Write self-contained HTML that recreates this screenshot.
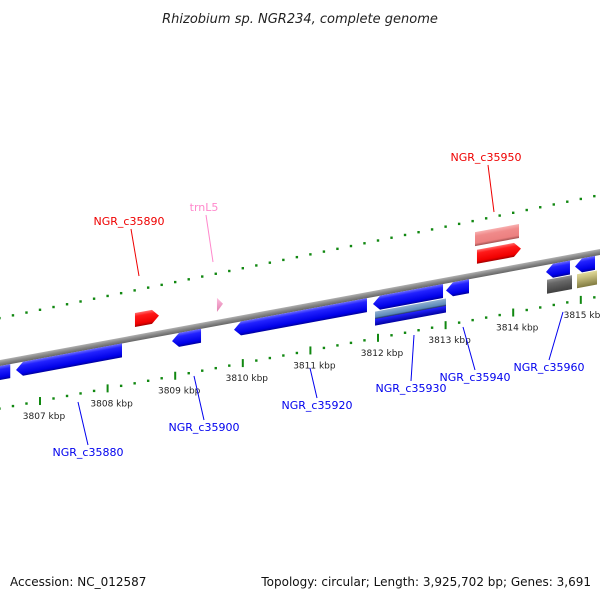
<!DOCTYPE html>
<html><head><meta charset="utf-8"><style>
body{margin:0;background:#fff;}
svg{display:block;font-family:"DejaVu Sans","Liberation Sans",sans-serif;}
</style></head><body>
<svg width="600" height="600" viewBox="0 0 600 600">
<defs>
<linearGradient id="gBlue" x1="0" y1="0" x2="0" y2="1"><stop offset="0" stop-color="#6a6aff"/><stop offset="0.25" stop-color="#2222ff"/><stop offset="0.8" stop-color="#0000e8"/><stop offset="1" stop-color="#00009a"/></linearGradient>
<linearGradient id="gRed" x1="0" y1="0" x2="0" y2="1"><stop offset="0" stop-color="#ff6a6a"/><stop offset="0.25" stop-color="#ff1a1a"/><stop offset="0.8" stop-color="#f00000"/><stop offset="1" stop-color="#a00000"/></linearGradient>
<linearGradient id="gPink" x1="0" y1="0" x2="0" y2="1"><stop offset="0" stop-color="#f8b0b0"/><stop offset="0.3" stop-color="#f08a8a"/><stop offset="0.8" stop-color="#ec8080"/><stop offset="1" stop-color="#a05050"/></linearGradient>
<linearGradient id="gSteel" x1="0" y1="0" x2="0" y2="1"><stop offset="0" stop-color="#90b0d0"/><stop offset="0.4" stop-color="#5a88b8"/><stop offset="0.5" stop-color="#2a3a6a"/><stop offset="0.55" stop-color="#2222ff"/><stop offset="1" stop-color="#0000a0"/></linearGradient>
<linearGradient id="gGray" x1="0" y1="0" x2="0" y2="1"><stop offset="0" stop-color="#909090"/><stop offset="0.3" stop-color="#686868"/><stop offset="1" stop-color="#404040"/></linearGradient>
<linearGradient id="gKhaki" x1="0" y1="0" x2="0" y2="1"><stop offset="0" stop-color="#e0da9a"/><stop offset="0.3" stop-color="#c8c080"/><stop offset="1" stop-color="#807a40"/></linearGradient>
<linearGradient id="gTrna" x1="0" y1="0" x2="0" y2="1"><stop offset="0" stop-color="#ffc0e0"/><stop offset="1" stop-color="#e080b0"/></linearGradient>
<linearGradient id="gBack" x1="0" y1="0" x2="0" y2="1"><stop offset="0" stop-color="#b0b0b0"/><stop offset="0.5" stop-color="#888"/><stop offset="1" stop-color="#666"/></linearGradient>
</defs>
<text x="300" y="23" text-anchor="middle" font-size="13" font-style="italic" fill="#222">Rhizobium sp. NGR234, complete genome</text>
<g id="tracks"></g>
<g id="skew" transform="matrix(1,-0.185,0,1,0,0)">
<rect x="-20" y="360" width="660" height="6" fill="url(#gBack)"/>
</g>
<g id="labels"></g>
<text x="10" y="586" font-size="12" fill="#111">Accession: NC_012587</text>
<text x="591" y="586" text-anchor="end" font-size="12" fill="#111">Topology: circular; Length: 3,925,702 bp; Genes: 3,691</text>
</svg>
<script>
const majorTicksBottom=[3807,3808,3809,3810,3811,3812,3813,3814,3815];
const majorTicksTop=[3806.7,3807.7,3808.7,3809.7,3810.7,3811.7,3812.7,3813.7,3814.7];
const geneNames=["c35870","NGR_c35880","NGR_c35890","trnL5","NGR_c35900","NGR_c35920","NGR_c35930","c35930b","NGR_c35940","c35950p","NGR_c35950","c35960a","NGR_c35960","c35960g","c35960k"];
const geneStart=[3806.26,3806.645,3808.405,3809.618,3808.953,3809.870,3811.926,3811.956,3813.006,3813.435,3813.464,3814.485,3814.914,3814.500,3814.944];
const geneEnd=[3806.56,3808.213,3808.760,3809.707,3809.382,3811.837,3812.962,3813.006,3813.346,3814.086,3814.115,3814.840,3815.210,3814.870,3815.240];
const geneRow=["R1","R1","F1","F1","R1","R1","R1","R2","R1","F2","F1","R1","R1","R2","R2"];
const geneDir=[-1,-1,1,1,-1,-1,-1,0,-1,0,1,-1,-1,0,0];
const geneFill=["gBlue","gBlue","gRed","gTrna","gBlue","gBlue","gBlue","gSteel","gBlue","gPink","gRed","gBlue","gBlue","gGray","gKhaki"];
const labelText=["NGR_c35880","NGR_c35890","trnL5","NGR_c35900","NGR_c35920","NGR_c35930","NGR_c35940","NGR_c35950","NGR_c35960"];
const labelColor=["#0000ee","#ee0000","#ff88cc","#0000ee","#0000ee","#0000ee","#0000ee","#ee0000","#0000ee"];
const labelPos=[[88,456],[129,225],[204,211],[204,431],[317,409],[411,392],[475,381],[486,161],[549,371]];
const leaderEnd=[[78,402],[139,276],[213,262],[194,376],[310,368],[414,335],[463,327],[494,212],[563,312]];
const NS="http://www.w3.org/2000/svg";
function xs(k){return 40+(k-3807)*67.6;}
function topY(x){return 318-0.205*x;}
function botY(x){return 408.5-0.187*x;}
const rowY={F2:[320,334],F1:[338,352],R1:[366,380],R2:[381,395]};
const tracks=document.getElementById('tracks');
function mk(tag,attrs,parent){const e=document.createElementNS(NS,tag);for(const k in attrs)e.setAttribute(k,attrs[k]);parent.appendChild(e);return e;}
// tracks
[[majorTicksTop,topY,'top'],[majorTicksBottom,botY,'bottom']].forEach(([maj,fy,nm])=>{
  for(let k=3806;k<=3815.5;k+=0.2){
    const kk=Math.round(k*10)/10;
    const isMaj=maj.some(m=>Math.abs(m-kk)<0.01)||maj.some(m=>Math.abs(((kk-m)%1+1)%1)<0.01);
    const kr=nm==='top'?Math.round((kk-0.7)*10)/10+0.7:kk;
    const x=xs(nm==='top'?kk+0.0:kk);
    if(x<-5||x>605)continue;
    const y=fy(x);
    const majT=maj.some(m=>Math.abs(m-kk)<0.01);
    let e;
    if(majT){e=mk('rect',{x:x-1,y:y-4,width:2,height:8,fill:'#118811'},tracks);
      
      
      if(nm==='bottom'){const t=mk('text',{x:x+4,y:y+18,'font-size':9,'text-anchor':'middle',fill:'#222'},tracks);t.textContent=kk+' kbp';
        
        }
    } else {e=mk('rect',{x:x-1.2,y:y-1.2,width:2.4,height:2.4,fill:'#118811'},tracks);
      
      }
  }
});
// fix top track: shifted ticks
(function(){})();
// genes
const sk=document.getElementById('skew');
geneNames.forEach((n,i)=>{
  const x1=xs(geneStart[i]),x2=xs(geneEnd[i]);const [y1,y2]=rowY[geneRow[i]];const ym=(y1+y2)/2;const a=Math.min(7,(x2-x1)*0.5);
  let d;
  if(geneFill[i]==='gTrna'){d=`M${x1},${y1} L${x2},${ym} L${x1},${y2} Z`;}
  else if(geneDir[i]===1)d=`M${x1},${y1} L${x2-a},${y1} L${x2},${ym} L${x2-a},${y2} L${x1},${y2} Z`;
  else if(geneDir[i]===-1)d=`M${x2},${y1} L${x1+a},${y1} L${x1},${ym} L${x1+a},${y2} L${x2},${y2} Z`;
  else d=`M${x1},${y1} L${x2},${y1} L${x2},${y2} L${x1},${y2} Z`;
  const p=mk('path',{d:d,fill:'url(#'+geneFill[i]+')'},sk);
  
  
});
// labels
const lg=document.getElementById('labels');
labelText.forEach((t,i)=>{
  const [lx,ly]=labelPos[i];const [ex,ey]=leaderEnd[i];
  const above=ey>ly;
  const l=mk('line',{x1:lx+(above?2:0),y1:above?ly+4:ly-11,x2:ex,y2:ey,stroke:labelColor[i],'stroke-width':1},lg);
  
  
  const tx=mk('text',{x:lx,y:ly,'text-anchor':'middle','font-size':11,fill:labelColor[i]},lg);tx.textContent=t;
  
  
});
</script>
</body></html>
